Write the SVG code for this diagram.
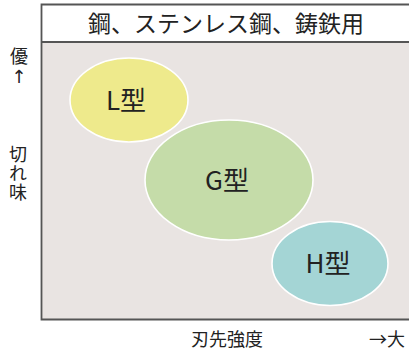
<svg xmlns="http://www.w3.org/2000/svg" width="409" height="354" viewBox="0 0 409 354">
<style>
text{font-family:"Noto Sans CJK JP","Noto Sans",sans-serif;fill:#222}
.node ellipse{stroke:#ffffff;stroke-width:1.6}
.lbl{font-size:26px;text-anchor:middle}
.axis{font-size:18px}
.frame{fill:none;stroke:#555555;stroke-width:1.8}
</style>
<g id="frame">
<rect x="41.5" y="4.5" width="370" height="315" fill="#e9e4e2"/>
<rect x="41.5" y="4.5" width="370" height="37.5" fill="#ffffff"/>
<path class="frame" d="M412 4.5 H41.5 V319.5 H412 M41.5 42 H412"/>
<text x="226" y="32" font-size="23" text-anchor="middle">鋼、ステンレス鋼、鋳鉄用</text>
</g>
<g id="connectors"></g>
<g id="node-L" class="node">
<ellipse cx="129" cy="100" rx="59" ry="42" fill="#eeea8c"/>
<text class="lbl" x="126" y="110">L型</text>
</g>
<g id="node-G" class="node">
<ellipse cx="229" cy="180" rx="84" ry="60" fill="#c5dca9"/>
<text class="lbl" x="227" y="190">G型</text>
</g>
<g id="node-H" class="node">
<ellipse cx="330" cy="263.5" rx="58" ry="42" fill="#a4d5d5"/>
<text class="lbl" x="328" y="273">H型</text>
</g>
<g id="axis-y">
<text class="axis" x="19" y="63" text-anchor="middle">優</text>
<text x="19" y="83" font-size="18" text-anchor="middle" style="font-family:'DejaVu Sans',sans-serif">↑</text>
<text class="axis" x="18" y="145" style="writing-mode:vertical-rl" letter-spacing="1">切れ味</text>
</g>
<g id="axis-x">
<text class="axis" x="227" y="346" text-anchor="middle">刃先強度</text>
<text class="axis" x="369" y="346">→大</text>
</g>
</svg>
